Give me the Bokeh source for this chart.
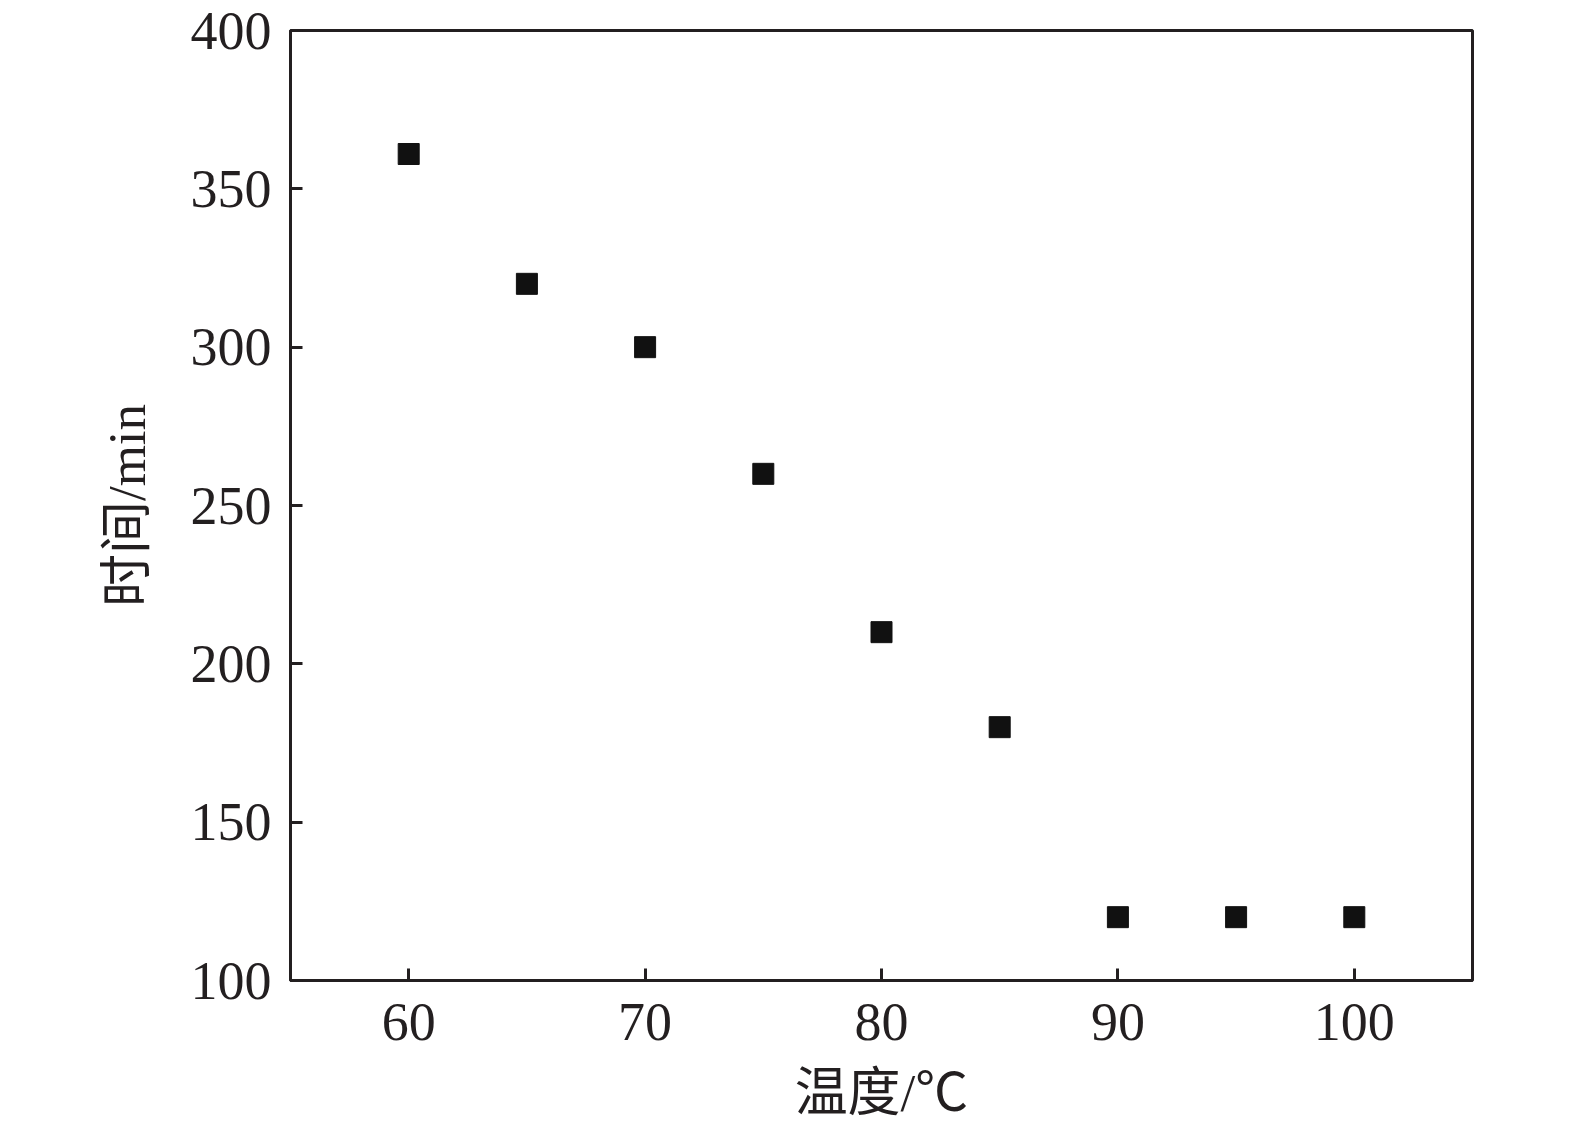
from bokeh.plotting import figure
from bokeh.embed import file_html
from bokeh.resources import INLINE
from bokeh.models import FixedTicker, Range1d

temps = [60, 65, 70, 75, 80, 85, 90, 95, 100]
times = [361, 320, 300, 260, 210, 180, 120, 120, 120]
x_ticks = [60, 70, 80, 90, 100]
y_ticks = [100, 150, 200, 250, 300, 350, 400]

INK = "#231f20"
SERIF = "'Liberation Serif', 'Noto Sans CJK SC', serif"

p = figure(width=1560, height=1124, output_backend="svg", toolbar_location=None,
           x_range=Range1d(55, 105), y_range=Range1d(100, 400),
           min_border_left=290, min_border_right=88, min_border_top=30, min_border_bottom=143)
p.xgrid.visible = False
p.ygrid.visible = False
p.outline_line_color = INK
p.outline_line_width = 3
p.outline_line_alpha = 1.0

p.scatter(temps, times, marker="square", size=21, fill_color="#111111", line_color="#111111")

for ax in (p.xaxis[0], p.yaxis[0]):
    ax.axis_line_color = INK
    ax.axis_line_width = 3
    ax.major_tick_line_color = INK
    ax.major_tick_line_width = 3
    ax.major_tick_in = 12
    ax.major_tick_out = 0
    ax.minor_tick_line_color = None
    ax.major_label_text_font = SERIF
    ax.major_label_text_font_size = "54px"
    ax.major_label_text_color = INK
    ax.axis_label_text_font = SERIF
    ax.axis_label_text_font_size = "53px"
    ax.axis_label_text_font_style = "normal"
    ax.axis_label_text_color = INK

p.xaxis.ticker = FixedTicker(ticks=x_ticks)
p.yaxis.ticker = FixedTicker(ticks=y_ticks)
p.xaxis.axis_label = "温度/℃"
p.yaxis.axis_label = "时间/min"
p.xaxis.major_label_standoff = 23
p.yaxis.major_label_standoff = 19
p.xaxis.axis_label_standoff = 21
p.yaxis.axis_label_standoff = 32

open("out.html", "w").write(file_html(p, INLINE))
